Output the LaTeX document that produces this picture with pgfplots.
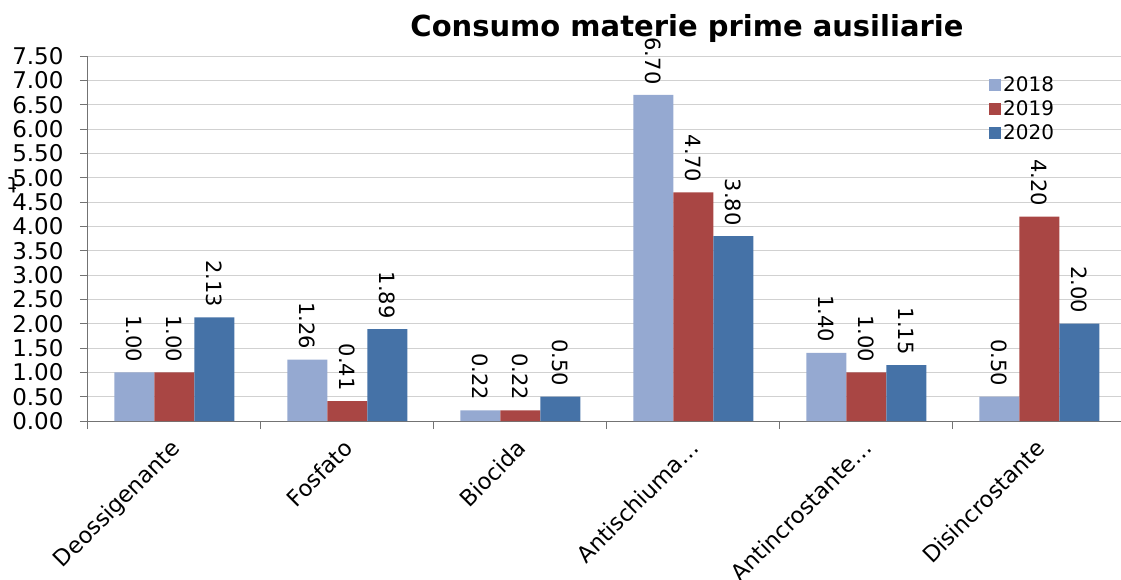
\documentclass[border=0pt]{standalone}
\usepackage{fontspec}
\setmainfont{DejaVu Sans}
\usepackage{pgfplots}
\pgfplotsset{compat=1.18}
\definecolor{cA}{RGB}{149,169,209}
\definecolor{cB}{RGB}{169,70,68}
\definecolor{cC}{RGB}{69,114,167}
\begin{document}
\begin{tikzpicture}[x=1pt,y=1pt]
\path[use as bounding box] (0,0) rectangle (1121,579);
\node[font=\fontsize{29}{33}\selectfont\bfseries] at (687,550) {Consumo materie prime ausiliarie};
\begin{axis}[
  at={(88pt,158pt)}, anchor=south west,
  scale only axis, width=1038pt, height=365pt,
  xmin=-0.5, xmax=5.5, ymin=0, ymax=7.5,
  clip=false,
  axis x line*=bottom, axis y line*=left,
  axis line style={-, draw=black!55, line width=1pt},
  tick align=outside, major tick length=8pt,
  ytick={0,0.5,...,7.5},
  yticklabel style={font=\fontsize{23}{26}\selectfont, xshift=-13pt, /pgf/number format/.cd, fixed, fixed zerofill, precision=2, assume math mode=true},
  ytick style={draw=black!55, line width=1pt},
  xtick={0,...,5},
  xticklabels={Deossigenante, Fosfato, Biocida, Antischiuma…, Antincrostante…, Disincrostante},
  xticklabel style={font=\fontsize{22.5}{26}\selectfont, xshift=-5pt, yshift=-4pt, rotate=45, anchor=north east},
  xtick style={draw=none},
  extra x ticks={-0.5,0.5,1.5,2.5,3.5,4.5,5.5},
  extra x tick labels={},
  extra x tick style={xtick style={draw=black!55, line width=1pt}, grid=none},
  ymajorgrids, grid style={draw=black!18, line width=1pt},
  ybar=0pt, bar width=40pt,
  ylabel={t},
  ylabel style={at={(axis description cs:-0.073,0.647)}, rotate=90, anchor=center, font=\fontsize{22}{26}\selectfont},
  nodes near coords={\pgfmathprintnumber[fixed,fixed zerofill,precision=2,assume math mode=true]{\pgfplotspointmeta}},
  every node near coord/.append style={font=\fontsize{21}{24}\selectfont, black, yshift=7pt, rotate=-90, anchor=east},
  legend style={draw=none, fill=none, at={(axis description cs:0.867,0.951)}, anchor=north west, font=\fontsize{20}{24}\selectfont, row sep=3.5pt, inner sep=1pt},
  legend cell align=left,
  legend image code/.code={\fill[#1] (0pt,-6pt) rectangle (12pt,6pt);},
]
\addplot[fill=cA, draw=none] coordinates {(0,1.00) (1,1.26) (2,0.22) (3,6.70) (4,1.40) (5,0.50)};
\addplot[fill=cB, draw=none] coordinates {(0,1.00) (1,0.41) (2,0.22) (3,4.70) (4,1.00) (5,4.20)};
\addplot[fill=cC, draw=none] coordinates {(0,2.13) (1,1.89) (2,0.50) (3,3.80) (4,1.15) (5,2.00)};
\legend{2018,2019,2020}
\end{axis}
\end{tikzpicture}
\end{document}
